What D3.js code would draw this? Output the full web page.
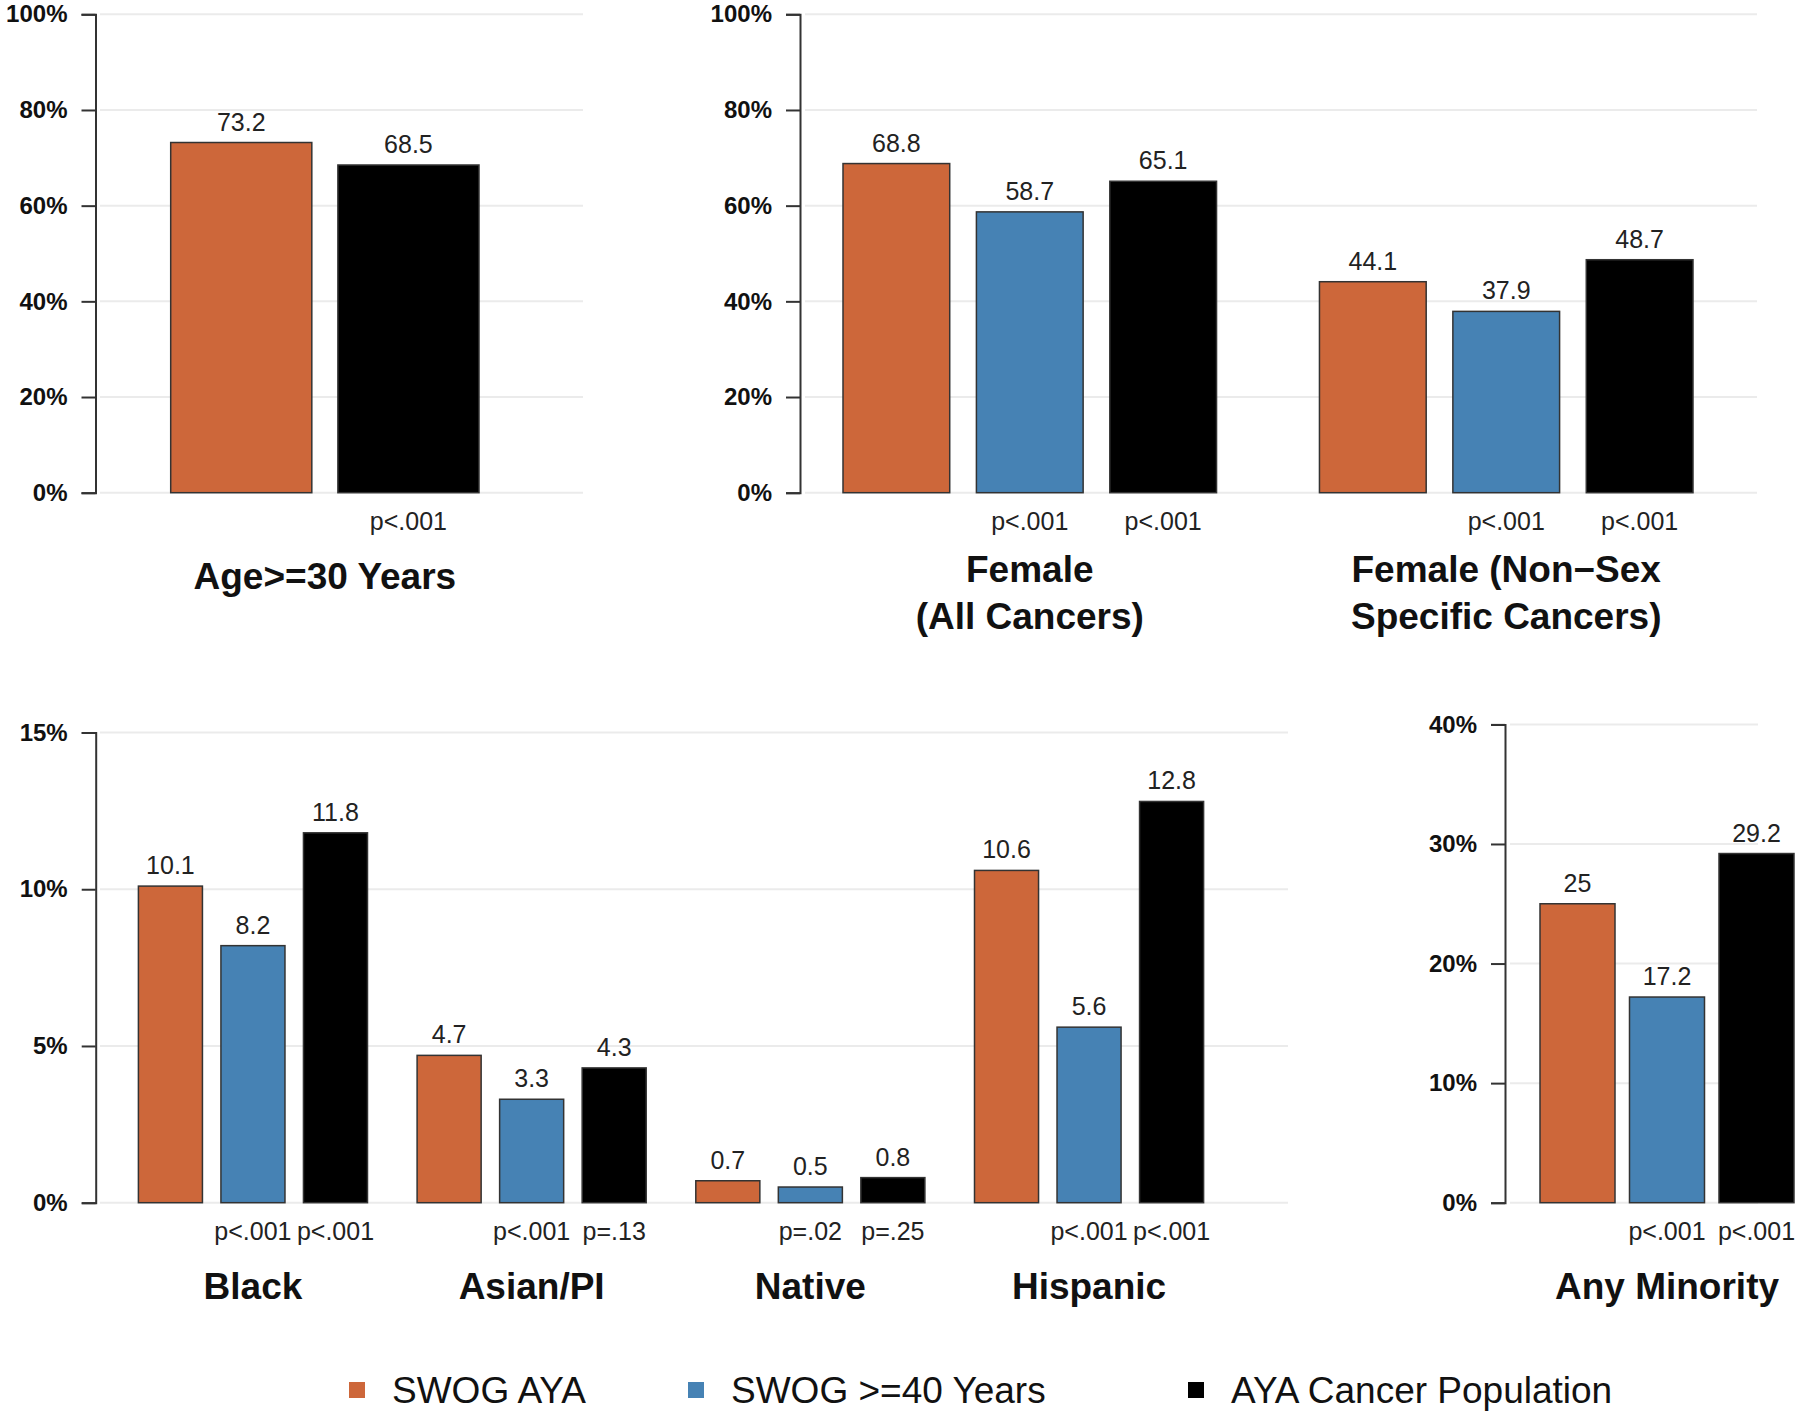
<!DOCTYPE html>
<html>
<head>
<meta charset="utf-8">
<script src="https://cdn.jsdelivr.net/npm/d3@7"></script>
<style>
  body { margin: 0; background: #fff; }
  svg { display: block; font-family: "Liberation Sans", Arial, Helvetica, sans-serif; }
</style>
</head>
<body>
<svg id="chart" width="1800" height="1418"></svg>
<script>
// ---------------- DATA ----------------
const seriesNames = ["SWOG AYA", "SWOG >=40 Years", "AYA Cancer Population"];

const ageCategories = ["Age>=30 Years"];
const ageSwogAya = [73.2];
const ageAyaPopulation = [68.5];
const agePValuesPopulation = ["p<.001"];
const ageTicks = [0, 20, 40, 60, 80, 100];

const femaleCategories = ["Female\n(All Cancers)", "Female (Non\u2212Sex\nSpecific Cancers)"];
const femaleSwogAya = [68.8, 44.1];
const femaleSwog40 = [58.7, 37.9];
const femaleAyaPopulation = [65.1, 48.7];
const femalePValues40 = ["p<.001", "p<.001"];
const femalePValuesPopulation = ["p<.001", "p<.001"];
const femaleTicks = [0, 20, 40, 60, 80, 100];

const raceCategories = ["Black", "Asian/PI", "Native", "Hispanic"];
const raceSwogAya = [10.1, 4.7, 0.7, 10.6];
const raceSwog40 = [8.2, 3.3, 0.5, 5.6];
const raceAyaPopulation = [11.8, 4.3, 0.8, 12.8];
const racePValues40 = ["p<.001", "p<.001", "p=.02", "p<.001"];
const racePValuesPopulation = ["p<.001", "p=.13", "p=.25", "p<.001"];
const raceTicks = [0, 5, 10, 15];

const minorityCategories = ["Any Minority"];
const minoritySwogAya = [25];
const minoritySwog40 = [17.2];
const minorityAyaPopulation = [29.2];
const minorityPValues40 = ["p<.001"];
const minorityPValuesPopulation = ["p<.001"];
const minorityTicks = [0, 10, 20, 30, 40];

// ---------------- STYLE ----------------
const color = d3.scaleOrdinal().domain(seriesNames).range(["#CD673A", "#4682B4", "#000000"]);
const FONT = '"Liberation Sans", Arial, Helvetica, sans-serif';
const svg = d3.select("#chart");

function drawPanel(cfg) {
  const g = svg.append("g");
  const y = d3.scaleLinear().domain([0, d3.max(cfg.ticks)]).range([cfg.yBottom, cfg.yTop]);

  // gridlines
  g.append("g").selectAll("line").data(cfg.ticks).join("line")
    .attr("x1", cfg.gridX[0]).attr("x2", cfg.gridX[1])
    .attr("y1", d => y(d)).attr("y2", d => y(d))
    .attr("stroke", "#ebebeb").attr("stroke-width", 2);

  // axis
  const ax = g.append("g").attr("transform", `translate(${cfg.axisX},0)`)
    .call(d3.axisLeft(y).tickValues(cfg.ticks).tickFormat(d => d + "%")
      .tickSize(14).tickSizeOuter(14).tickPadding(14));
  ax.attr("font-family", FONT).attr("font-size", null);
  ax.select(".domain").attr("stroke", "#333").attr("stroke-width", 2);
  ax.selectAll(".tick line").attr("stroke", "#333").attr("stroke-width", 2);
  ax.selectAll(".tick text").attr("font-size", 24).attr("font-weight", "bold").attr("fill", "#111");

  const x0 = d3.scaleBand().domain(cfg.categories).range(cfg.xRange).paddingInner(cfg.groupPad);
  const x1 = d3.scaleBand().domain(cfg.series.map(s => s.name)).range([0, x0.bandwidth()]).paddingInner(cfg.barPad);

  const groups = g.append("g").selectAll("g").data(cfg.categories).join("g")
    .attr("transform", c => `translate(${x0(c)},0)`);

  groups.each(function(cat, ci) {
    const gg = d3.select(this);
    const rows = cfg.series.map(s => ({ name: s.name, value: s.values[ci], p: s.p ? s.p[ci] : null }));
    gg.selectAll("rect").data(rows).join("rect")
      .attr("x", d => x1(d.name)).attr("width", x1.bandwidth())
      .attr("y", d => y(d.value)).attr("height", d => y(0) - y(d.value))
      .attr("fill", d => color(d.name)).attr("stroke", "#333").attr("stroke-width", 1.5);
    gg.selectAll("text.val").data(rows).join("text").attr("class", "val")
      .attr("x", d => x1(d.name) + x1.bandwidth() / 2).attr("y", d => y(d.value) - 12)
      .attr("text-anchor", "middle").attr("font-size", 25).attr("fill", "#222")
      .text(d => d.value);
    gg.selectAll("text.pv").data(rows.filter(d => d.p)).join("text").attr("class", "pv")
      .attr("x", d => x1(d.name) + x1.bandwidth() / 2).attr("y", y(0) + 37)
      .attr("text-anchor", "middle").attr("font-size", 25).attr("fill", "#222")
      .text(d => d.p);
    const lines = cat.split("\n");
    const base = lines.length === 1 ? [y(0) + 96] : [y(0) + 89, y(0) + 136.5];
    gg.selectAll("text.title").data(lines).join("text").attr("class", "title")
      .attr("x", x0.bandwidth() / 2).attr("y", (d, i) => base[i])
      .attr("text-anchor", "middle").attr("font-size", 37).attr("font-weight", "bold").attr("fill", "#111")
      .text(d => d);
  });
}

drawPanel({
  categories: ageCategories, ticks: ageTicks,
  series: [
    { name: seriesNames[0], values: ageSwogAya },
    { name: seriesNames[2], values: ageAyaPopulation, p: agePValuesPopulation }
  ],
  axisX: 95.5, yTop: 14.3, yBottom: 492.7, gridX: [100, 583],
  xRange: [170.7, 479], groupPad: 0, barPad: 0.156
});

drawPanel({
  categories: femaleCategories, ticks: femaleTicks,
  series: [
    { name: seriesNames[0], values: femaleSwogAya },
    { name: seriesNames[1], values: femaleSwog40, p: femalePValues40 },
    { name: seriesNames[2], values: femaleAyaPopulation, p: femalePValuesPopulation }
  ],
  axisX: 800, yTop: 14.3, yBottom: 492.7, gridX: [805, 1757],
  xRange: [843, 1693], groupPad: 0.216, barPad: 0.2
});

drawPanel({
  categories: raceCategories, ticks: raceTicks,
  series: [
    { name: seriesNames[0], values: raceSwogAya },
    { name: seriesNames[1], values: raceSwog40, p: racePValues40 },
    { name: seriesNames[2], values: raceAyaPopulation, p: racePValuesPopulation }
  ],
  axisX: 95.7, yTop: 732.5, yBottom: 1202.7, gridX: [100, 1288],
  xRange: [138.4, 1203.6], groupPad: 0.178, barPad: 0.224
});

drawPanel({
  categories: minorityCategories, ticks: minorityTicks,
  series: [
    { name: seriesNames[0], values: minoritySwogAya },
    { name: seriesNames[1], values: minoritySwog40, p: minorityPValues40 },
    { name: seriesNames[2], values: minorityAyaPopulation, p: minorityPValuesPopulation }
  ],
  axisX: 1505, yTop: 724.4, yBottom: 1202.7, gridX: [1510, 1758],
  xRange: [1540, 1794], groupPad: 0, barPad: 0.162
});

// ---------------- LEGEND ----------------
const legendStarts = [349, 688, 1188];
const legend = svg.append("g").selectAll("g").data(seriesNames).join("g")
  .attr("transform", (d, i) => `translate(${legendStarts[i]},1390)`);
legend.append("rect").attr("x", 0).attr("y", -8).attr("width", 16).attr("height", 16)
  .attr("fill", d => color(d));
legend.append("text").attr("x", 43).attr("y", 13)
  .attr("font-size", 37).attr("fill", "#111").text(d => d);
</script>
</body>
</html>
